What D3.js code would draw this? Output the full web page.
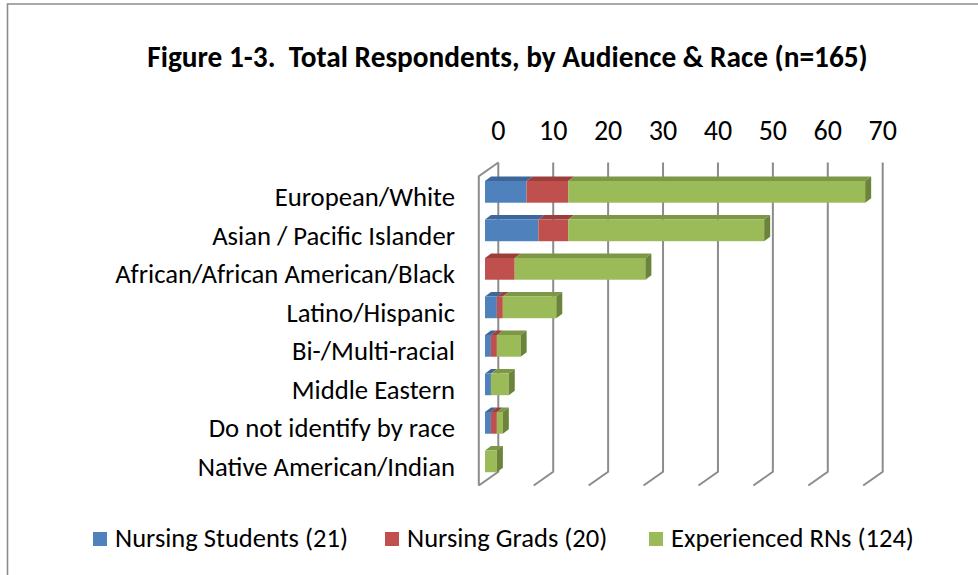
<!DOCTYPE html>
<html><head><meta charset="utf-8">
<script src="https://cdn.jsdelivr.net/npm/d3@7/dist/d3.min.js"></script>
<style>body{margin:0;background:#fff}svg{display:block}</style>
</head><body>
<svg id="chart" width="978" height="575"></svg>
<script>
const categories = ["European/White","Asian / Pacific Islander","African/African American/Black","Latino/Hispanic","Bi-/Multi-racial","Middle Eastern","Do not identify by race","Native American/Indian"];
const students = [7, 9, 0, 2, 1, 1, 1, 0];
const grads    = [7, 5, 5, 1, 1, 0, 1, 0];
const rns      = [50, 33, 22, 9, 4, 3, 1, 2];
const seriesKeys = ["students","grads","rns"];
const seriesNames = ["Nursing Students (21)","Nursing Grads (20)","Experienced RNs (124)"];
const tickValues = [0,10,20,30,40,50,60,70];
const titleText = "Figure 1-3.  Total Respondents, by Audience & Race (n=165)";

const FONT = "Carlito, Lato, 'Open Sans', sans-serif";
const front = {students:"#4F81BD", grads:"#C0504D", rns:"#9BBB59"};
const topC  = {students:"#3D679A", grads:"#9B3F3C", rns:"#7C9745"};
const sideC = {students:"#35598A", grads:"#8A3633", rns:"#6B843A"};

const svg = d3.select("#chart");
const table = categories.map((c,i)=>({cat:c, students:students[i], grads:grads[i], rns:rns[i]}));
const stack = d3.stack().keys(seriesKeys)(table);

// scales
const xWall = d3.scaleLinear().domain([0,70]).range([498.3, 882.7]);   // back wall
const xBar  = d3.scaleLinear().domain([0,70]).range([485, 900.8]);     // bar front plane
const pad = 0.436, step = 38.5;
const y = d3.scaleBand().domain(categories)
  .range([181 - pad*step, 181 - pad*step + step*(categories.length + pad)])
  .paddingInner(pad).paddingOuter(pad);
const wallTop = 162.5, wallBottom = 471.7;
const depthDx = -19.5, depthDy = 13.8; // floor/wall depth offset toward viewer
const barDx = 6, barDy = -4.4;

// border
svg.append("path").attr("d","M7.5,575 L7.5,4 L978,4").attr("fill","none").attr("stroke","#8c8c8c").attr("stroke-width",1.6);

function fit(sel, target){
  sel.attr("font-size", 20);
  const w = sel.node().getComputedTextLength();
  const s = 20*target/w;
  sel.attr("font-size", s);
  return s;
}

// title
const title = svg.append("text").attr("x", 507.5).attr("y", 67).attr("text-anchor","middle")
  .attr("font-family",FONT).attr("font-weight","bold").attr("fill","#000").text(titleText)
  .style("white-space","pre");
fit(title, 721);

// gridlines (back wall + floor)
const grid = svg.append("g").attr("stroke","#8c8c8c").attr("stroke-width",2).attr("fill","none");
tickValues.forEach(v=>{
  const x = xWall(v);
  grid.append("path").attr("d",`M${x},${wallTop} L${x},${wallBottom} L${x+depthDx},${wallBottom+depthDy}`);
});
// left wall
const x0 = xWall(0);
grid.append("path").attr("d",`M${x0},${wallTop} L${x0+depthDx},${wallTop+depthDy} L${x0+depthDx},${wallBottom+depthDy}`);

// tick labels
const tickG = svg.append("g").attr("font-family",FONT).attr("fill","#000").attr("text-anchor","middle");
const tks = tickG.selectAll("text").data(tickValues).join("text")
  .attr("x",d=>xWall(d)).attr("y",140).text(d=>d);

// category labels
const labG = svg.append("g").attr("font-family",FONT).attr("fill","#000").attr("text-anchor","end");
const labs = labG.selectAll("text").data(categories).join("text")
  .attr("x",455).attr("y",d=>y(d)+y.bandwidth()/2+5).attr("dy","0.35em").text(d=>d);
const labSize = fit(labs.filter(d=>d==="African/African American/Black"), 340);
labs.attr("font-size", labSize);
tks.attr("font-size", labSize*1.05);

// bars
const barsG = svg.append("g");
stack.forEach((layer, li)=>{
  const key = layer.key;
  layer.forEach(seg=>{
    const v0 = seg[0], v1 = seg[1];
    if (v1 - v0 <= 0) return;
    const xa = xBar(v0), xb = xBar(v1);
    const yt = y(seg.data.cat), yb = yt + y.bandwidth();
    barsG.append("path").attr("d",`M${xa},${yt} L${xb},${yt} L${xb+barDx},${yt+barDy} L${xa+barDx},${yt+barDy} Z`)
      .attr("fill", topC[key]);
    barsG.append("rect").attr("x",xa).attr("y",yt).attr("width",xb-xa).attr("height",yb-yt)
      .attr("fill", front[key]);
    const total = seg.data.students + seg.data.grads + seg.data.rns;
    if (v1 === total) {
      barsG.append("path").attr("d",`M${xb},${yt} L${xb+barDx},${yt+barDy} L${xb+barDx},${yb+barDy} L${xb},${yb} Z`)
        .attr("fill", sideC[key]);
    }
  });
});

// legend
const legX = [93, 385, 649];
const legG = svg.append("g").attr("font-family",FONT);
seriesKeys.forEach((k,i)=>{
  legG.append("rect").attr("x",legX[i]).attr("y",532).attr("width",14).attr("height",14).attr("fill",front[k]);
});
const legT = legG.selectAll("text.leg").data(seriesNames).join("text").attr("class","leg")
  .attr("x",(d,i)=>legX[i]+22).attr("y",547).attr("fill","#000").text(d=>d);
const legSize = fit(legT.filter((d,i)=>i===2), 243);
legT.attr("font-size", legSize);
</script>
</body></html>
